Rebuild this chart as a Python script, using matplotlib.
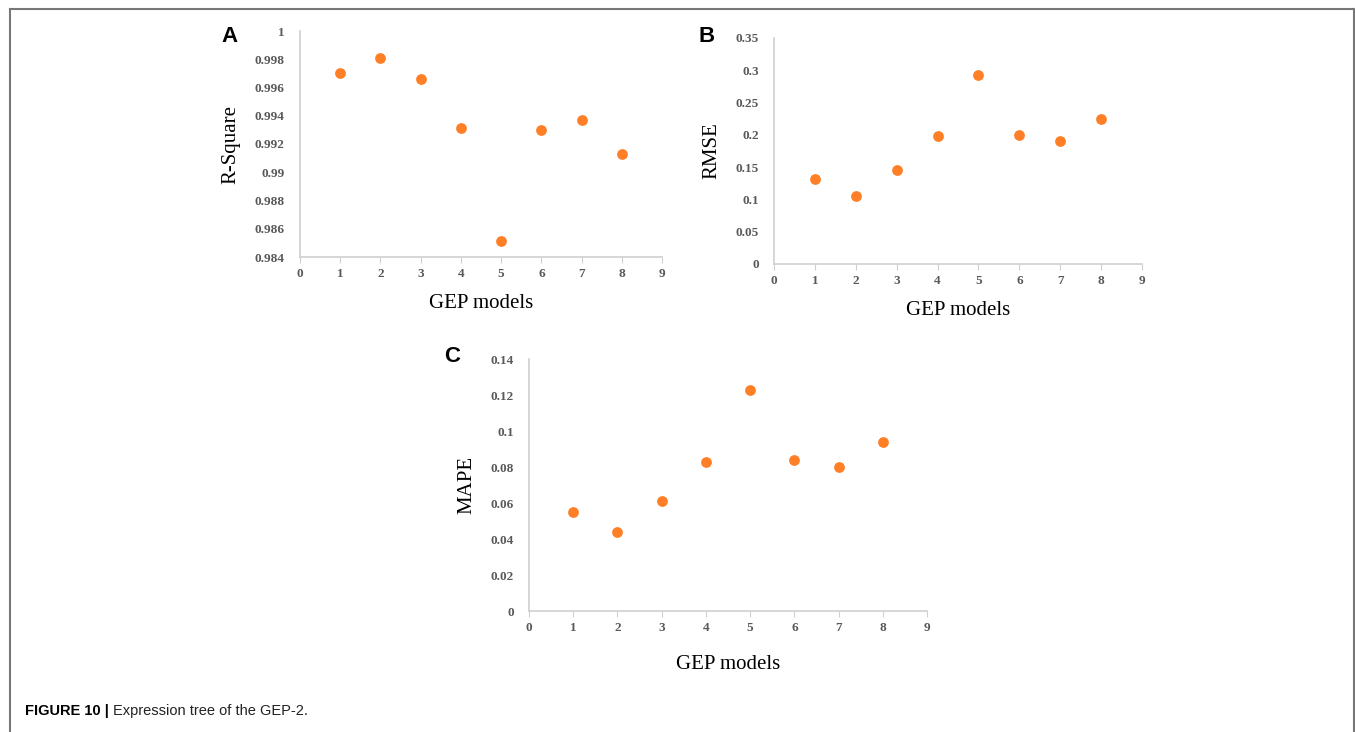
import matplotlib
matplotlib.use("Agg")
import matplotlib.pyplot as plt
from matplotlib.lines import Line2D

# data
models = [1, 2, 3, 4, 5, 6, 7, 8]
r_square = [0.9970, 0.9981, 0.9966, 0.9931, 0.98515, 0.9930, 0.9937, 0.9913]
rmse = [0.131, 0.105, 0.146, 0.199, 0.292, 0.200, 0.190, 0.225]
mape = [0.055, 0.044, 0.061, 0.083, 0.123, 0.084, 0.080, 0.094]

x_ticks = list(range(0, 10))
r_ticks = [0.984, 0.986, 0.988, 0.99, 0.992, 0.994, 0.996, 0.998, 1]
r_labels = ['0.984', '0.986', '0.988', '0.99', '0.992', '0.994', '0.996', '0.998', '1']
rmse_ticks = [0, 0.05, 0.1, 0.15, 0.2, 0.25, 0.3, 0.35]
rmse_labels = ['0', '0.05', '0.1', '0.15', '0.2', '0.25', '0.3', '0.35']
mape_ticks = [0, 0.02, 0.04, 0.06, 0.08, 0.1, 0.12, 0.14]
mape_labels = ['0', '0.02', '0.04', '0.06', '0.08', '0.1', '0.12', '0.14']

W, H = 1355, 732
ORANGE = '#ff7f27'
SERIF = 'Liberation Serif'
SANS = 'Liberation Sans'

fig = plt.figure(figsize=(W / 100, H / 100), dpi=100)


def px_axes(x0, x1, ytop, ybot):
    return fig.add_axes([x0 / W, 1 - ybot / H, (x1 - x0) / W, (ybot - ytop) / H])


def style(ax, yvals, yticks, ylabels, ylabel, ylim):
    ax.scatter(models, yvals, s=60, color=ORANGE, zorder=3, linewidths=0)
    ax.set_xlim(0, 9)
    ax.set_ylim(*ylim)
    ax.set_xticks(x_ticks)
    ax.set_xticklabels([str(t) for t in x_ticks])
    ax.set_yticks(yticks)
    ax.set_yticklabels(ylabels)
    for s in ['top', 'right']:
        ax.spines[s].set_visible(False)
    for s in ['left', 'bottom']:
        ax.spines[s].set_color('#d0d0d0')
        ax.spines[s].set_linewidth(1.2)
    ax.tick_params(axis='x', length=4, color='#d0d0d0', pad=4)
    ax.tick_params(axis='y', length=0, pad=11)
    for lab in ax.get_xticklabels() + ax.get_yticklabels():
        lab.set_fontfamily(SERIF)
        lab.set_fontweight('bold')
        lab.set_fontsize(9.5)
        lab.set_color('#595959')
    ax.set_xlabel('GEP models', fontfamily=SERIF, fontsize=15, labelpad=10)
    ax.set_ylabel(ylabel, fontfamily=SERIF, fontsize=15, labelpad=10)


ax_a = px_axes(300, 662, 31, 257)
style(ax_a, r_square, r_ticks, r_labels, 'R-Square', (0.984, 1.0))

ax_b = px_axes(774, 1142, 38, 264)
style(ax_b, rmse, rmse_ticks, rmse_labels, 'RMSE', (0, 0.35))

ax_c = px_axes(529, 927, 359, 611)
style(ax_c, mape, mape_ticks, mape_labels, 'MAPE', (0, 0.14))
ax_c.xaxis.labelpad = 15

# panel letters
for letter, (px, py) in {'A': (230, 37), 'B': (707, 37), 'C': (452, 357)}.items():
    fig.text(px / W, 1 - py / H, letter, fontfamily=SANS, fontweight='bold',
             fontsize=16, ha='center', va='center')

# outer frame (open at the bottom)
frame_kw = dict(color='#777777', linewidth=1.5, transform=fig.transFigure)
fig.add_artist(Line2D([9.5 / W, 9.5 / W], [0, 1 - 8.5 / H], **frame_kw))
fig.add_artist(Line2D([9.5 / W, 1353.5 / W], [1 - 8.5 / H, 1 - 8.5 / H], **frame_kw))
fig.add_artist(Line2D([1353.5 / W, 1353.5 / W], [0, 1 - 8.5 / H], **frame_kw))

# caption
cap_y = 1 - 711 / H
t1 = fig.text(25 / W, cap_y, 'FIGURE 10 |', fontfamily=SANS, fontweight='bold',
              fontsize=10.5, va='center', ha='left')
fig.canvas.draw()
bb = t1.get_window_extent()
fig.text((bb.x1 + 4) / W, cap_y, 'Expression tree of the GEP-2.', fontfamily=SANS,
         fontsize=10.5, va='center', ha='left', color='#222222')

fig.savefig('out.png', dpi=100)
